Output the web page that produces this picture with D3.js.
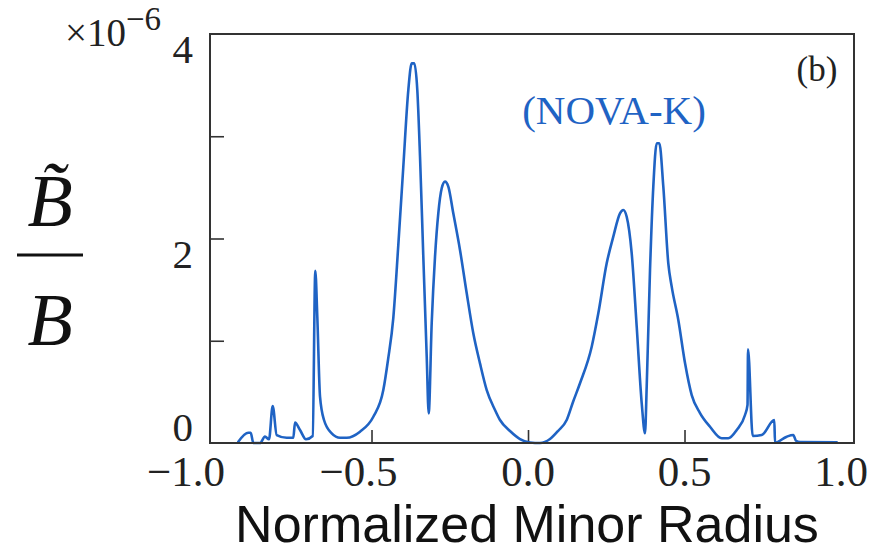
<!DOCTYPE html>
<html>
<head>
<meta charset="utf-8">
<script src="https://cdn.jsdelivr.net/npm/d3@7"></script>
<style>
html,body{margin:0;padding:0;background:#fff;}
svg{display:block;}
</style>
</head>
<body>
<svg id="chart" width="880" height="553"></svg>
<script>
// ---- data (field values in units of 1e-6) ----
const radius = [-0.9256,-0.8936,-0.8859,-0.8776,-0.8562,-0.8403,-0.8275,-0.8157,-0.8029,-0.7709,-0.7498,-0.7444,-0.7284,-0.7093,-0.6879,-0.6796,-0.6732,-0.6645,-0.6518,-0.6272,-0.6006,-0.5792,-0.5367,-0.4942,
  -0.4623,-0.4473,-0.4304,-0.4144,-0.3984,-0.3824,-0.3716,-0.3633,-0.3537,-0.3450,-0.3345,-0.3236,-0.3173,-0.3077,-0.2971,-0.2866,-0.2757,-0.2652,-0.2546,-0.2387,-0.2173,-0.1958,-0.1748,-0.1534,-0.1319,-0.1054,-0.0895,-0.0575,-0.0256,0.0064,0.0383,0.0703,0.0958,0.1236,0.1438,0.1661,
  0.2035,0.2246,0.2514,0.2725,0.2939,0.3045,0.3153,0.3313,0.3473,0.3633,0.3738,0.3792,0.3898,0.4003,0.4112,0.4195,0.4323,0.4482,0.4591,0.4802,0.5016,0.5230,0.5495,0.5815,0.6188,0.6399,0.6668,0.6933,0.7013,0.7029,0.7179,0.7466,0.7869,0.7891,0.8265,0.8476,0.8562,0.8690,0.9863];
const bRatio = [0.013,0.10,0.10,0.0,0.0,0.062,0.036,0.362,0.078,0.052,0.052,0.199,0.127,0.036,0.068,1.685,1.235,0.453,0.225,0.095,0.052,0.052,0.111,0.257,
  0.518,0.812,1.222,1.936,2.702,3.452,3.713,3.713,3.452,2.800,1.822,0.844,0.290,1.171,1.822,2.246,2.491,2.556,2.507,2.246,1.888,1.464,1.073,0.779,0.518,0.323,0.225,0.117,0.039,0.005,0.0,0.039,0.117,0.225,0.401,0.584,
  0.942,1.268,1.757,2.018,2.246,2.279,2.213,1.855,1.137,0.388,0.095,0.551,1.692,2.507,2.931,2.931,2.507,1.757,1.529,1.203,0.782,0.469,0.293,0.159,0.046,0.046,0.127,0.274,0.372,0.916,0.068,0.078,0.225,0.003,0.062,0.078,0.022,0.010,0.007];
const xTickLabels = [-1.0,-0.5,0.0,0.5,1.0];
const xMinorTicks = [-0.5,0.0,0.5];
const yTickLabels = [0,2,4];
const yTickMarks = [1,2,3];

// ---- layout ----
const svg = d3.select("#chart");
const L = 210, R = 854, T = 34, B = 443;
const x = d3.scaleLinear().domain([-1.016, 1.0415]).range([L, R]);
const y = d3.scaleLinear().domain([0, 4]).range([B, T]);
const blue = "#1f63c4";
const serif = "'Liberation Serif','Times New Roman',serif";

// tick marks (inward)
svg.append("g").attr("transform", `translate(0,${B})`)
  .call(d3.axisBottom(x).tickValues(xMinorTicks).tickSize(-13).tickFormat(""))
  .call(g => g.select(".domain").remove())
  .call(g => g.selectAll("line").attr("stroke", "#333").attr("stroke-width", 1.6));
svg.append("g").attr("transform", `translate(${L},0)`)
  .call(d3.axisLeft(y).tickValues(yTickMarks).tickSize(-14).tickFormat(""))
  .call(g => g.select(".domain").remove())
  .call(g => g.selectAll("line").attr("stroke", "#333").attr("stroke-width", 1.6));

// x tick labels
const fmt = v => (v < 0 ? "\u2212" : "") + Math.abs(v).toFixed(1);
svg.append("g").selectAll("text").data(xTickLabels).join("text")
  .attr("x", d => d < 0 ? x(d) + 26 + (d === -1 ? -16 : 0) : x(d))
  .attr("y", 486)
  .attr("text-anchor", d => d < 0 ? "end" : "middle")
  .attr("font-family", serif).attr("font-size", 43).attr("fill", "#222")
  .text(fmt);

// y tick labels
svg.append("g").selectAll("text").data(yTickLabels).join("text")
  .attr("x", 193)
  .attr("y", d => y(d) + (d === 0 ? -16 : 15) + 14)
  .attr("text-anchor", "end")
  .attr("font-family", serif).attr("font-size", 41).attr("fill", "#222")
  .text(d => d);

// exponent label
const ex = svg.append("text").attr("font-family", serif).attr("fill", "#222");
ex.append("tspan").attr("x", 65).attr("y", 46).attr("font-size", 39).text("\u00d710");
ex.append("tspan").attr("x", 126).attr("y", 30).attr("font-size", 33).text("\u22126");

// curve
const pts = radius.map((r, i) => [r, bRatio[i]]);
svg.append("path").datum(pts)
  .attr("fill", "none").attr("stroke", blue).attr("stroke-width", 2.6)
  .attr("stroke-linejoin", "round").attr("stroke-linecap", "round")
  .attr("d", d3.line().curve(d3.curveMonotoneX).x(d => x(d[0])).y(d => y(d[1])));

// frame
svg.append("rect").attr("x", L).attr("y", T).attr("width", R - L).attr("height", B - T)
  .attr("fill", "none").attr("stroke", "#333").attr("stroke-width", 2);

// annotations
svg.append("text").attr("x", 817).attr("y", 81).attr("text-anchor", "middle")
  .attr("font-family", serif).attr("font-size", 35).attr("fill", "#222").text("(b)");
svg.append("text").attr("x", 614).attr("y", 124).attr("text-anchor", "middle")
  .attr("font-family", serif).attr("font-size", 41).attr("fill", blue).text("(NOVA-K)");

// x axis title
svg.append("text").attr("x", 527).attr("y", 542).attr("text-anchor", "middle")
  .attr("font-family", "'Liberation Sans',Arial,sans-serif").attr("font-size", 52).attr("fill", "#111")
  .text("Normalized Minor Radius");

// y axis label: B~ / B
const yl = svg.append("g").attr("font-family", serif).attr("font-style", "italic").attr("fill", "#111");
yl.append("text").attr("x", 50).attr("y", 226).attr("text-anchor", "middle").attr("font-size", 74).text("B\u0303");
svg.append("line").attr("x1", 17).attr("x2", 83).attr("y1", 255).attr("y2", 255)
  .attr("stroke", "#111").attr("stroke-width", 3);
yl.append("text").attr("x", 50).attr("y", 345).attr("text-anchor", "middle").attr("font-size", 74).text("B");
</script>
</body>
</html>
